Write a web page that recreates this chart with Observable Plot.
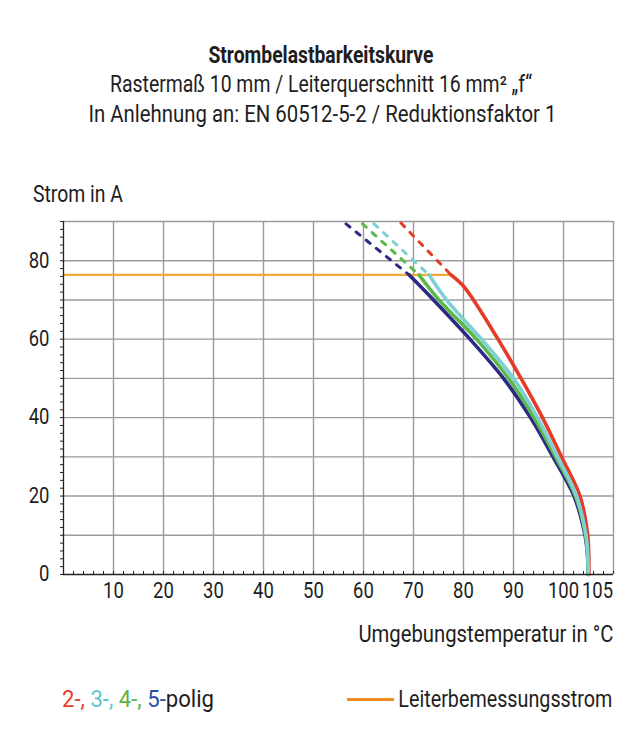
<!DOCTYPE html>
<html><head><meta charset="utf-8">
<script src="https://cdn.jsdelivr.net/npm/d3@7"></script>
<script src="https://cdn.jsdelivr.net/npm/@observablehq/plot@0.6"></script>
<style>
body{margin:0;background:#fff;}
#root{position:relative;width:642px;height:754px;background:#fff;overflow:hidden;
  font-family:Roboto,"Liberation Sans",sans-serif;color:#1e1e1e;}
.t{position:absolute;white-space:nowrap;line-height:1;}
#chart{position:absolute;left:0;top:150px;}
</style></head><body><div id="root"><div id="chart"></div></div>
<script>
// ---------- data ----------
const titleLines = ["Strombelastbarkeitskurve",
  "Rastermaß 10 mm / Leiterquerschnitt 16 mm² „f“",
  "In Anlehnung an: EN 60512-5-2 / Reduktionsfaktor 1"];
const yTitle = "Strom in A";
const xTitle = "Umgebungstemperatur in °C";
const seriesNames = ["2-polig", "3-polig", "4-polig", "5-polig"];
const seriesColors = ["#e63b27", "#7fd0d2", "#5db84b", "#2c2a85"];
const legendColors = ["#e8402a", "#5ec6cf", "#5db44a", "#2d4fa0"];
const ratedLabel = "Leiterbemessungsstrom";
const ratedCurrent = 76.4;
const ratedFrom = 0, ratedTo = 77.5;

const xLabelTicks = [10, 20, 30, 40, 50, 60, 70, 80, 90, 100];
const xExtraTick = [105];
const yLabelTicks = [0, 20, 40, 60, 80];
const xGrid = [10, 20, 30, 40, 50, 60, 70, 80, 90, 100, 110];
const yGrid = [10, 20, 30, 40, 50, 60, 70, 80, 90];
const xMinor = d3.range(0, 111, 2);
const yMinor = d3.range(0, 91, 2);

// dashed extrapolation above the rated current
const dash2T = [67.5, 77.5], dash2I = [89.6, 76.4];
const dash3T = [62.1, 73.1], dash3I = [89.4, 76.4];
const dash4T = [59.8, 71.1], dash4I = [89.4, 76.4];
const dash5T = [56.5, 69.1], dash5I = [89.4, 76.4];
// solid derating curves
const sol2T = [77.5, 79.8, 82.0, 86.9, 91.5, 95.8, 99.6, 103.3, 104.85, 105.05, 105.1];
const sol2I = [76.4, 73.8, 70, 60, 50, 40, 30, 20, 10, 5, 0];
const sol3T = [73.1, 76.6, 83.6, 90.0, 94.8, 98.8, 102.6, 104.5, 104.85, 105.0];
const sol3I = [76.4, 70, 60, 50, 40, 30, 20, 10, 5, 0];
const sol4T = [71.1, 75.1, 82.6, 89.0, 94.1, 98.4, 102.4, 104.4, 104.8, 104.95];
const sol4I = [76.4, 70, 60, 50, 40, 30, 20, 10, 5, 0];
const sol5T = [69.1, 74.0, 81.3, 88.0, 93.4, 97.9, 102.1, 104.3, 104.8, 104.95];
const sol5I = [76.4, 70, 60, 50, 40, 30, 20, 10, 5, 0];

// ---------- build tables ----------
function rows(name, T, I) { return T.map((t, i) => ({series: name, T: t, I: I[i]})); }
const dashed = [
  ...rows("2-polig", dash2T, dash2I), ...rows("5-polig", dash5T, dash5I),
  ...rows("4-polig", dash4T, dash4I), ...rows("3-polig", dash3T, dash3I)];
const solid = [
  ...rows("2-polig", sol2T, sol2I), ...rows("5-polig", sol5T, sol5I),
  ...rows("4-polig", sol4T, sol4I), ...rows("3-polig", sol3T, sol3I)];
const rated = [{I: ratedCurrent, t0: ratedFrom, t1: ratedTo}];

const FONT = 'Roboto,"Liberation Sans",sans-serif';
const chart = Plot.plot({
  width: 642, height: 510,
  marginLeft: 63, marginRight: 29, marginTop: 71, marginBottom: 86,
  x: {domain: [0, 110], label: null},
  y: {domain: [0, 90], label: null},
  color: {domain: seriesNames, range: seriesColors},
  style: {fontFamily: FONT, fontSize: "21.5px", color: "#1e1e1e", background: "transparent", overflow: "visible"},
  marks: [
    Plot.gridX(xGrid, {stroke: "#9a9a9a", strokeOpacity: 1, strokeWidth: 1.4}),
    Plot.gridY(yGrid, {stroke: "#9a9a9a", strokeOpacity: 1, strokeWidth: 1.4}),
    Plot.ruleY(rated, {y: "I", x1: "t0", x2: "t1", stroke: "#f6a93b", strokeWidth: 2.2}),
    Plot.line(dashed, {x: "T", y: "I", z: "series", stroke: "series", strokeWidth: 3, strokeDasharray: "5,8"}),
    Plot.line(solid, {x: "T", y: "I", z: "series", stroke: "series", strokeWidth: 3.6, curve: "catmull-rom"}),
    Plot.ruleX([0], {stroke: "#222", strokeWidth: 1.3}),
    Plot.ruleY([0], {stroke: "#222", strokeWidth: 1.3}),
    Plot.ruleX(xMinor, {x: d => d, y1: 0, y2: 0.75, stroke: "#222", strokeWidth: 1}),
    Plot.axisY(yMinor, {anchor: "left", tickSize: 3, tickFormat: () => "", stroke: "#222", label: null}),
    Plot.axisY(yLabelTicks, {anchor: "left", tickSize: 0, tickPadding: 14, label: null}),
    Plot.axisX(xLabelTicks, {anchor: "bottom", tickSize: 0, tickPadding: 8, label: null}),
    Plot.axisX(xExtraTick, {anchor: "bottom", tickSize: 0, tickPadding: 8, dx: 9, label: null})
  ]
});
document.getElementById("chart").appendChild(chart);
// condense tick labels horizontally (narrow face in the reference)
chart.querySelectorAll('g[aria-label$="tick label"] text').forEach(t => {
  const cx = +(t.getAttribute("x") || 0);
  const tr = t.getAttribute("transform") || "";
  t.setAttribute("transform", `${tr} translate(${cx},0) scale(0.86,1) translate(${-cx},0)`);
});

// ---------- HTML text ----------
const root = document.getElementById("root");
function addText(content, x, baseline, anchor, target, size, opts = {}) {
  const el = document.createElement("span");
  el.className = "t";
  el.style.fontSize = size + "px";
  if (opts.bold) el.style.fontWeight = "bold";
  if (typeof content === "string") el.textContent = content; else content.forEach(c => el.appendChild(c));
  const probe = document.createElement("i");
  probe.style.cssText = "display:inline-block;width:0;height:0;vertical-align:baseline;";
  el.appendChild(probe);
  el.style.top = "0px";
  root.appendChild(el);
  const base = probe.getBoundingClientRect().top - el.getBoundingClientRect().top;
  el.style.top = (baseline - base) + "px";
  const w = el.getBoundingClientRect().width;
  const s = target ? target / w : 1;
  let left = x, origin = "left";
  if (anchor === "middle") { left = x - w / 2; origin = "center"; }
  if (anchor === "end") { left = x - w; origin = "right"; }
  el.style.left = left + "px";
  el.style.transformOrigin = origin + " center";
  el.style.transform = `scaleX(${s})`;
  return el;
}
addText(titleLines[0], 321, 63.3, "middle", 225, 23, {bold: true});
addText(titleLines[1], 321, 92, "middle", 422, 23);
addText(titleLines[2], 322, 122, "middle", 468, 23);
addText(yTitle, 33.3, 201.7, "start", 90, 23);
addText(xTitle, 613.5, 642, "end", 255, 23);

// legend
const parts = ["2-,", " 3-,", " 4-,", " 5-", "polig"];
const spans = parts.map((p, i) => {
  const s = document.createElement("span");
  s.textContent = p;
  s.style.color = i < 4 ? legendColors[i] : "#1e1e1e";
  return s;
});
addText(spans, 62, 707, "start", 152, 23);
const sw = document.createElement("div");
sw.style.cssText = "position:absolute;left:347px;top:697.5px;width:47px;height:3px;background:#f08c1e;";
root.appendChild(sw);
addText(ratedLabel, 612, 707, "end", 214, 23);
</script>
</body></html>
